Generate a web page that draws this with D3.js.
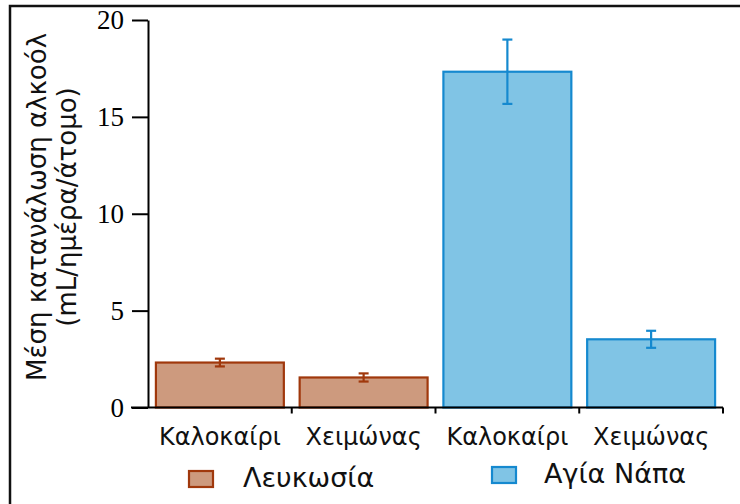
<!DOCTYPE html>
<html>
<head>
<meta charset="utf-8">
<script src="https://cdn.jsdelivr.net/npm/d3@7"></script>
<style>
  html, body { margin: 0; padding: 0; background: #fff; }
  svg { display: block; }
</style>
</head>
<body>
<div id="chart"></div>
<script>
const seasons = ["Καλοκαίρι", "Χειμώνας"];
const cities = ["Λευκωσία", "Αγία Νάπα"];
const lefkosiaMeans = [2.32, 1.55];
const lefkosiaErrors = [0.2, 0.21];
const agiaNapaMeans = [17.33, 3.52];
const agiaNapaErrors = [1.66, 0.44];
const yTicks = [0, 5, 10, 15, 20];
const yTitle = ["Μέση κατανάλωση αλκοόλ", "(mL/ημέρα/άτομο)"];

const width = 740, height = 504;
const margin = {top: 20, right: 17, bottom: 96.5, left: 148};
const sans = "'DejaVu Sans', Verdana, sans-serif";

const fills = ["#cd9a7e", "#80c4e5"];
const strokes = ["#a0380c", "#1589cf"];

// one row per bar: city + season
const rows = [];
cities.forEach((c, ci) => {
    const means = ci === 0 ? lefkosiaMeans : agiaNapaMeans;
    const errs = ci === 0 ? lefkosiaErrors : agiaNapaErrors;
    seasons.forEach((s, si) => {
        rows.push({key: c + "|" + s, city: ci, season: s, mean: means[si], err: errs[si]});
    });
});

const svg = d3.select("#chart").append("svg")
    .attr("width", width)
    .attr("height", height);

// outer frame (top + left edges)
svg.append("path")
    .attr("d", `M10,${height} V6 H${width}`)
    .attr("fill", "none")
    .attr("stroke", "#111")
    .attr("stroke-width", 2.5);

const x = d3.scaleBand()
    .domain(rows.map(d => d.key))
    .range([margin.left, width - margin.right])
    .paddingInner(0.11)
    .paddingOuter(0.055);

const y = d3.scaleLinear()
    .domain([0, 20])
    .range([height - margin.bottom, margin.top]);

const half = x.step() * x.paddingInner() / 2;

// bars
svg.append("g").selectAll("rect")
    .data(rows)
    .join("rect")
    .attr("x", d => x(d.key))
    .attr("y", d => y(d.mean))
    .attr("width", x.bandwidth())
    .attr("height", d => y(0) - y(d.mean))
    .attr("fill", d => fills[d.city])
    .attr("stroke", d => strokes[d.city])
    .attr("stroke-width", 2.2);

// error bars
const eb = svg.append("g").selectAll("g")
    .data(rows)
    .join("g")
    .attr("stroke", d => strokes[d.city])
    .attr("stroke-width", 2.2);
const cx = d => x(d.key) + x.bandwidth() / 2;
eb.append("line")
    .attr("x1", cx).attr("x2", cx)
    .attr("y1", d => y(d.mean + d.err))
    .attr("y2", d => y(d.mean - d.err));
eb.append("line")
    .attr("x1", d => cx(d) - 5).attr("x2", d => cx(d) + 5)
    .attr("y1", d => y(d.mean + d.err))
    .attr("y2", d => y(d.mean + d.err));
eb.append("line")
    .attr("x1", d => cx(d) - 5).attr("x2", d => cx(d) + 5)
    .attr("y1", d => y(d.mean - d.err))
    .attr("y2", d => y(d.mean - d.err));

// y axis
const yAxis = svg.append("g")
    .attr("transform", `translate(${margin.left},0)`)
    .call(d3.axisLeft(y).tickValues(yTicks).tickSize(16).tickPadding(8).tickSizeOuter(0));
yAxis.select(".domain").attr("stroke", "#000").attr("stroke-width", 2);
yAxis.selectAll(".tick line").attr("stroke", "#000").attr("stroke-width", 2);
yAxis.selectAll(".tick text")
    .attr("fill", "#000")
    .style("font-family", "'Liberation Serif', 'Times New Roman', serif")
    .style("font-size", "27px");

// x axis: line with ticks at band boundaries
const xAxisG = svg.append("g").attr("transform", `translate(0,${y(0)})`);
xAxisG.append("line")
    .attr("x1", margin.left - 17)
    .attr("x2", width - margin.right)
    .attr("stroke", "#000")
    .attr("stroke-width", 2);
xAxisG.selectAll(".xt")
    .data(rows)
    .join("line")
    .attr("class", "xt")
    .attr("x1", d => x(d.key) + x.bandwidth() + half)
    .attr("x2", d => x(d.key) + x.bandwidth() + half)
    .attr("y1", 0).attr("y2", 6)
    .attr("stroke", "#000")
    .attr("stroke-width", 2);
xAxisG.selectAll(".xl")
    .data(rows)
    .join("text")
    .attr("class", "xl")
    .attr("x", cx)
    .attr("y", 37)
    .attr("text-anchor", "middle")
    .style("font-family", sans)
    .style("font-size", "24px")
    .attr("fill", "#111")
    .text(d => d.season);

// y title
const yt = svg.append("text")
    .attr("transform", "translate(46,207) rotate(-90)")
    .attr("text-anchor", "middle")
    .style("font-family", sans)
    .style("font-size", "26px")
    .attr("fill", "#111");
yt.selectAll("tspan")
    .data(yTitle)
    .join("tspan")
    .attr("x", 0)
    .attr("dy", (d, i) => i === 0 ? 0 : 30)
    .text(d => d);

// legend
const legendPos = [{x: 189, y: 471, tx: 243, ty: 487}, {x: 492, y: 467, tx: 544, ty: 483}];
const lg = svg.append("g").selectAll("g")
    .data(cities)
    .join("g");
lg.append("rect")
    .attr("x", (d, i) => legendPos[i].x)
    .attr("y", (d, i) => legendPos[i].y)
    .attr("width", 24)
    .attr("height", 16)
    .attr("fill", (d, i) => fills[i])
    .attr("stroke", (d, i) => strokes[i])
    .attr("stroke-width", 2.2);
lg.append("text")
    .attr("x", (d, i) => legendPos[i].tx)
    .attr("y", (d, i) => legendPos[i].ty)
    .style("font-family", sans)
    .style("font-size", "27px")
    .attr("fill", "#111")
    .text(d => d);
</script>
</body>
</html>
